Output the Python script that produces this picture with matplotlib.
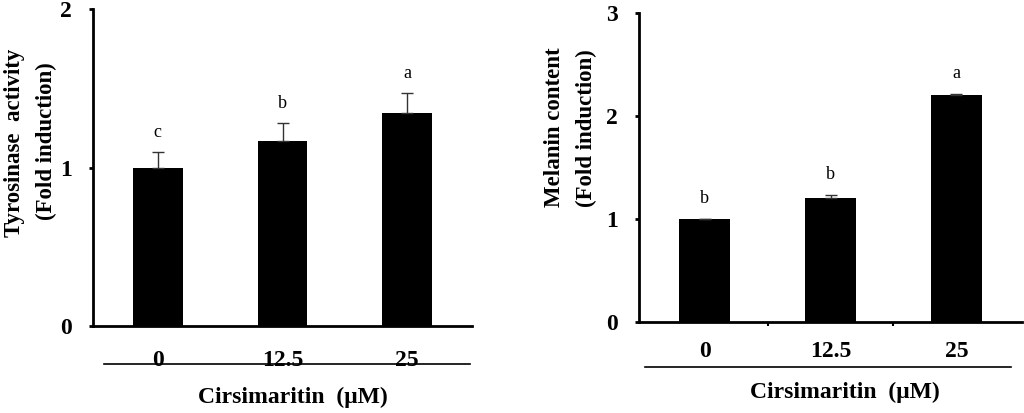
import matplotlib.pyplot as plt
from matplotlib.lines import Line2D

plt.rcParams['font.family'] = ['Liberation Serif', 'DejaVu Serif']

# data
doses = ['0', '12.5', '25']
tyr_vals = [1.00, 1.17, 1.345]
tyr_err = [0.10, 0.11, 0.125]
tyr_letters = ['c', 'b', 'a']
mel_vals = [1.00, 1.20, 2.20]
mel_err = [0.0, 0.03, 0.01]
mel_letters = ['b', 'b', 'a']

fig = plt.figure(figsize=(10.24, 4.13), dpi=100)
ax1 = fig.add_axes([93/1024, 1-326/413, (472-93)/1024, (326-9)/413])
ax2 = fig.add_axes([639/1024, 1-322/413, (1022-639)/1024, (322-13)/413])


def draw(ax, vals, errs, letters, ymax, letter_gap, minor, xpad):
    x = range(len(vals))
    ax.bar(x, vals, width=0.4, color='black')
    ax.errorbar(x, vals, yerr=[[0]*len(vals), errs], fmt='none',
                ecolor='#333333', elinewidth=1, capsize=4, capthick=1)
    for xi, v, e, l in zip(x, vals, errs, letters):
        ax.text(xi, v + e + letter_gap, l, ha='center', va='bottom', fontsize=13)
    ax.set_xlim(-0.52, 2.52)
    ax.set_ylim(0, ymax)
    ax.set_yticks(range(ymax + 1))
    ax.set_xticks(list(x))
    ax.set_xticklabels(doses)
    for s in ['top', 'right']:
        ax.spines[s].set_visible(False)
    for s in ['left', 'bottom']:
        ax.spines[s].set_linewidth(2)
    ax.tick_params(axis='y', length=3, width=2, labelsize=17, pad=12)
    ax.tick_params(axis='x', length=0, labelsize=17, pad=xpad)
    for lab in ax.get_xticklabels() + ax.get_yticklabels():
        lab.set_fontweight('bold')
    if minor:
        ax.set_xticks([0.5, 1.5], minor=True)
        ax.tick_params(axis='x', which='minor', length=3, width=1.5)


draw(ax1, tyr_vals, tyr_err, tyr_letters, 2, 0.07, False, 17)
draw(ax2, mel_vals, mel_err, mel_letters, 3, 0.12, True, 14)

# y labels
yl = dict(rotation=90, ha='center', va='center', fontsize=16.5, fontweight='bold')
fig.text(15/1024, 1-143/413, 'Tyrosinase  activity', **yl)
fig.text(46/1024, 1-141/413, '(Fold induction)', **yl)
fig.text(555/1024, 1-127/413, 'Melanin content', **yl)
fig.text(586/1024, 1-128/413, '(Fold induction)', **yl)

# underlines and x labels
fig.add_artist(Line2D([104/1024, 470/1024], [1-364/413, 1-364/413], color='black', lw=1.2))
fig.add_artist(Line2D([645/1024, 1011/1024], [1-367/413, 1-367/413], color='black', lw=1.2))
fig.text(293/1024, 1-397/413, 'Cirsimaritin  (\u03bcM)', ha='center', va='center',
         fontsize=17, fontweight='bold')
fig.text(845/1024, 1-392/413, 'Cirsimaritin  (\u03bcM)', ha='center', va='center',
         fontsize=17, fontweight='bold')

fig.savefig('out.png', dpi=100)
